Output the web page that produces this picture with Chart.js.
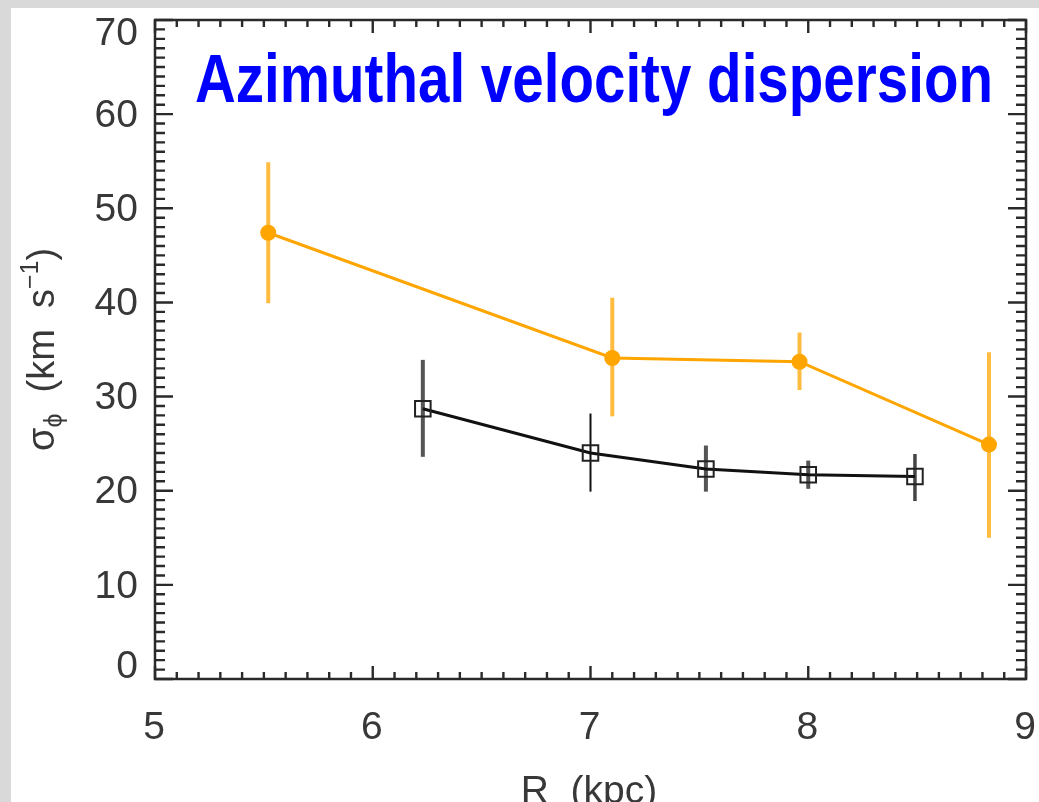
<!DOCTYPE html>
<html>
<head>
<meta charset="utf-8">
<script src="https://cdn.jsdelivr.net/npm/chart.js@4.4.1/dist/chart.umd.min.js"></script>
<style>
  html, body { margin: 0; padding: 0; background: #dcdcdc; }
  #chart { display: block; }
</style>
</head>
<body>
<canvas id="chart" width="1039" height="802"></canvas>
<script>
// ---- data ----
const orangeR   = [5.52, 7.10, 7.96, 8.83];
const orangeSig = [47.4, 34.1, 33.7, 24.9];
const orangeLo  = [39.9, 27.9, 30.7, 15.0];
const orangeHi  = [54.9, 40.5, 36.8, 34.7];

const blackR   = [6.23, 7.00, 7.53, 8.00, 8.49];
const blackSig = [28.7, 24.0, 22.3, 21.7, 21.5];
const blackLo  = [23.6, 19.9, 19.9, 20.2, 18.9];
const blackHi  = [33.9, 28.2, 24.8, 23.2, 23.9];

const xTicks = [5, 6, 7, 8, 9];
const yTicks = [0, 10, 20, 30, 40, 50, 60, 70];

const titleText = 'Azimuthal velocity dispersion';
const FONT = '"Liberation Sans", Arial, sans-serif';
const INK = '#2a2a2a';
const LABEL = '#383838';

// grey page with the white panel
const panelBg = {
  id: 'panelBg',
  beforeDraw(chart) {
    const ctx = chart.ctx;
    ctx.save();
    ctx.fillStyle = '#d9d9d9';
    ctx.fillRect(0, 0, chart.width, chart.height);
    ctx.fillStyle = '#ffffff';
    ctx.fillRect(11, 8, chart.width - 11, chart.height - 8);
    ctx.restore();
  }
};

// vertical error bars, drawn under the lines
const errorBars = {
  id: 'errorBars',
  beforeDatasetsDraw(chart) {
    const ctx = chart.ctx;
    const xs = chart.scales.x, ys = chart.scales.y;
    ctx.save();
    ctx.lineCap = 'butt';
    orangeR.forEach((r, i) => {
      const px = xs.getPixelForValue(r);
      ctx.strokeStyle = 'rgba(255,176,30,0.85)';
      ctx.lineWidth = 4;
      ctx.beginPath();
      ctx.moveTo(px, ys.getPixelForValue(orangeLo[i]));
      ctx.lineTo(px, ys.getPixelForValue(orangeHi[i]));
      ctx.stroke();
    });
    const bw = [4, 2, 4, 4, 3.5];
    const bc = ['#555', '#111', '#555', '#555', '#444'];
    blackR.forEach((r, i) => {
      const px = xs.getPixelForValue(r);
      ctx.strokeStyle = bc[i];
      ctx.lineWidth = bw[i];
      ctx.beginPath();
      ctx.moveTo(px, ys.getPixelForValue(blackLo[i]));
      ctx.lineTo(px, ys.getPixelForValue(blackHi[i]));
      ctx.stroke();
    });
    ctx.restore();
  }
};

// IDL-style box with inward ticks, labels and titles
const frame = {
  id: 'frame',
  afterDraw(chart) {
    const ctx = chart.ctx;
    const a = chart.chartArea;
    const xs = chart.scales.x, ys = chart.scales.y;
    ctx.save();
    ctx.strokeStyle = INK;
    ctx.lineWidth = 2.5;
    ctx.strokeRect(a.left, a.top, a.right - a.left, a.bottom - a.top);

    ctx.lineWidth = 2.4;
    ctx.beginPath();
    // x ticks: minor every 0.1, major every 1
    for (let k = 50; k <= 90; k++) {
      const px = xs.getPixelForValue(k / 10);
      const len = (k % 10 === 0) ? 13 : 7;
      ctx.moveTo(px, a.bottom); ctx.lineTo(px, a.bottom - len);
      ctx.moveTo(px, a.top);    ctx.lineTo(px, a.top + len);
    }
    // y ticks: minor every 1, major every 10
    for (let v = 0; v <= 70; v++) {
      const py = ys.getPixelForValue(v);
      const len = (v % 10 === 0) ? 18 : 10;
      ctx.moveTo(a.left, py);  ctx.lineTo(a.left + len, py);
      ctx.moveTo(a.right, py); ctx.lineTo(a.right - len, py);
    }
    ctx.stroke();

    // tick labels
    ctx.fillStyle = LABEL;
    ctx.font = '39px ' + FONT;
    ctx.textAlign = 'right';
    ctx.textBaseline = 'middle';
    yTicks.forEach(v => {
      let py = ys.getPixelForValue(v) + 2;
      py = Math.max(py, a.top + 14);
      py = Math.min(py, a.bottom - 12);
      ctx.fillText(String(v), 138, py);
    });
    ctx.textAlign = 'center';
    ctx.textBaseline = 'alphabetic';
    xTicks.forEach(v => {
      ctx.fillText(String(v), xs.getPixelForValue(v) - 1, 739);
    });

    // x title
    ctx.fillText('R  (kpc)', 589, 803);

    // y title: sigma_phi (km s^-1), rotated
    const big = '38px ' + FONT, small = '25px ' + FONT;
    const parts = [
      { t: 'σ', f: big, dy: 0 },
      { t: 'ϕ', f: small, dy: 8 },
      { t: '  (km  s', f: big, dy: 0 },
      { t: '−1', f: small, dy: -16 },
      { t: ')', f: big, dy: 0 }
    ];
    let total = 0;
    parts.forEach(p => { ctx.font = p.f; p.w = ctx.measureText(p.t).width; total += p.w; });
    ctx.translate(54, (a.top + a.bottom) / 2);
    ctx.rotate(-Math.PI / 2);
    ctx.textAlign = 'left';
    let cx = -total / 2;
    parts.forEach(p => {
      ctx.font = p.f;
      ctx.fillText(p.t, cx, p.dy);
      cx += p.w;
    });
    ctx.restore();

    // blue title inside the plot
    ctx.save();
    ctx.font = 'bold 68px "Liberation Sans Narrow", ' + FONT;
    ctx.fillStyle = '#0000ff';
    ctx.textAlign = 'left';
    ctx.textBaseline = 'alphabetic';
    const w = ctx.measureText(titleText).width;
    ctx.translate(195, 102);
    ctx.scale(798 / w, 1);
    ctx.fillText(titleText, 0, 0);
    ctx.restore();
  }
};

new Chart(document.getElementById('chart'), {
  type: 'scatter',
  data: {
    datasets: [
      {
        label: 'orange',
        data: orangeR.map((r, i) => ({ x: r, y: orangeSig[i] })),
        showLine: true,
        borderColor: '#ffa500',
        borderWidth: 3,
        pointStyle: 'circle',
        pointRadius: 8,
        pointBackgroundColor: '#ffa500',
        pointBorderColor: '#ffa500',
        pointBorderWidth: 0
      },
      {
        label: 'black',
        data: blackR.map((r, i) => ({ x: r, y: blackSig[i] })),
        showLine: true,
        borderColor: '#111111',
        borderWidth: 3,
        pointStyle: 'rect',
        pointRadius: 11,
        pointBackgroundColor: 'rgba(0,0,0,0)',
        pointBorderColor: '#222222',
        pointBorderWidth: 2
      }
    ]
  },
  options: {
    responsive: false,
    animation: false,
    events: [],
    layout: { padding: { left: 155, top: 20, right: 12, bottom: 123 } },
    plugins: { legend: { display: false }, tooltip: { enabled: false } },
    scales: {
      x: { type: 'linear', min: 5, max: 9, display: false },
      y: { type: 'linear', min: 0, max: 70, display: false }
    }
  },
  plugins: [panelBg, errorBars, frame]
});
</script>
</body>
</html>
